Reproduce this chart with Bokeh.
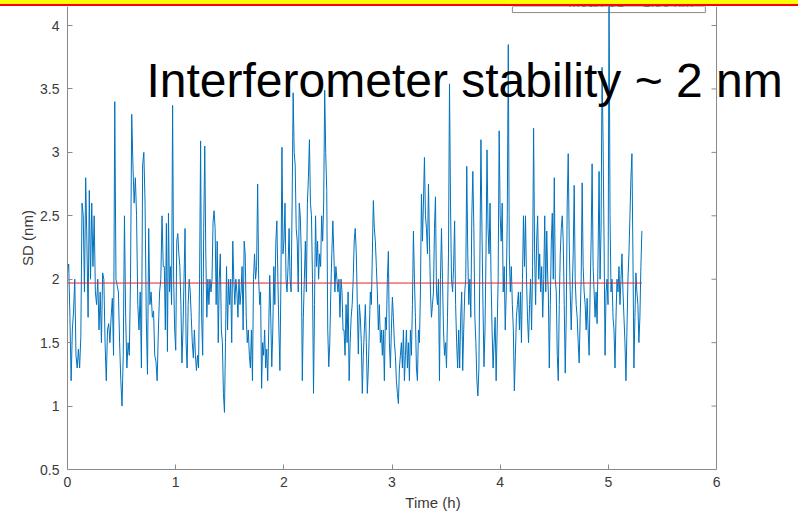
import numpy as np
from bokeh.plotting import figure
from bokeh.models import Range1d, FixedTicker, Label, Div, BoxAnnotation, ColumnDataSource, Title, Span
from bokeh.layouts import column
from bokeh.embed import file_html
from bokeh.resources import INLINE
from bokeh.core.properties import value

# ---------------- data ----------------
# time span (h) covered by each chunk of readings
seg_bounds = [(0.0, 0.885), (0.895, 1.777), (1.785, 2.66),
              (2.67, 3.55), (3.56, 4.44), (4.445, 5.31)]

sd_seg1 = [2.05, 2.12, 1.7, 1.2, 1.6, 1.75, 2.0, 1.4, 1.3, 1.45, 1.3, 1.55, 2.6, 2.5, 1.9, 2.8,
           2.3, 1.7, 2.7, 2.0, 2.6, 2.1, 2.5, 1.9, 1.8, 2.0, 1.6, 1.9, 1.5, 2.05, 2.0, 1.5, 1.2,
           1.6, 1.65, 1.5, 1.7, 1.85, 1.4, 3.4, 2.0, 1.95, 1.9, 1.5, 1.2, 1.0, 1.4, 2.5, 1.7, 1.3,
           1.5, 1.4, 2.0, 3.3, 2.9, 2.6, 2.8, 2.5, 1.8, 1.6, 1.9, 1.3, 2.9, 3.0, 2.6, 1.7, 1.25,
           2.4, 1.8, 1.9, 1.7, 1.75, 1.4, 1.35, 1.2, 1.6, 1.9, 2.0, 2.5, 2.1]
sd_seg2 = [2.1, 1.6, 2.44, 1.43, 2.52, 1.9, 2.1, 1.8, 3.37, 2.0, 1.6, 1.44, 2.3, 2.36, 2.2, 2.1,
           1.8, 1.34, 1.6, 2.0, 2.4, 1.5, 1.3, 1.8, 2.0, 1.9, 1.7, 1.5, 1.38, 1.6, 1.4, 1.28, 1.4,
           1.3, 2.0, 3.09, 1.7, 1.4, 2.4, 3.05, 2.2, 1.7, 2.0, 1.8, 2.0, 1.9, 2.0, 2.45, 2.54, 2.4,
           1.8, 2.3, 1.5, 2.0, 2.2, 1.6, 1.5, 1.1, 0.95, 1.5, 2.1, 1.6, 2.0, 1.8, 2.0, 1.5, 2.3,
           2.0, 1.8, 2.0, 1.9, 1.7, 2.0, 1.8, 1.9, 2.1, 1.6, 2.3, 2.2, 1.7, 1.5, 1.6, 1.4, 1.3,
           1.6, 1.2, 2.0, 2.2, 2.0, 2.1, 2.75, 2.0, 1.8]
sd_seg3 = [1.9, 1.14, 1.5, 1.4, 1.6, 1.3, 1.45, 1.2, 1.6, 2.03, 1.7, 1.31, 1.6, 2.1, 1.8, 2.3,
           2.46, 2.0, 1.6, 1.28, 2.0, 3.04, 2.2, 2.3, 2.6, 2.0, 1.9, 2.1, 2.4, 2.0, 1.9, 2.6, 3.47,
           3.0, 2.9, 2.4, 2.3, 1.9, 2.6, 2.5, 2.2, 1.2, 1.7, 2.0, 2.3, 1.9, 2.6, 2.8, 3.1, 2.6,
           2.5, 2.0, 1.1, 1.8, 2.5, 2.1, 2.3, 2.0, 2.2, 2.1, 2.5, 2.3, 2.6, 3.49, 3.0, 2.7, 1.6,
           1.31, 1.5, 1.9, 2.2, 2.46, 2.2, 1.9, 2.1, 2.0, 1.9, 2.0, 1.7, 2.0, 1.9, 1.6, 1.6, 1.4,
           1.8, 1.5, 1.9, 1.2, 1.5, 1.7, 1.8, 2.0, 2.3, 2.4]
sd_seg4 = [2.2, 1.8, 1.41, 1.8, 1.7, 1.5, 1.1, 1.4, 1.6, 1.8, 1.5, 1.1, 1.3, 1.6, 1.9, 1.8, 2.2,
           2.62, 2.4, 2.3, 2.1, 1.9, 1.6, 1.8, 1.5, 1.6, 1.4, 1.6, 1.2, 1.7, 1.6, 2.0, 2.22, 1.5,
           1.3, 1.6, 1.86, 1.7, 1.5, 1.4, 1.2, 1.1, 1.02, 1.3, 1.4, 1.5, 1.3, 1.6, 1.2, 1.4, 1.6,
           1.3, 1.5, 1.2, 1.6, 1.4, 1.8, 2.38, 2.0, 1.7, 1.3, 1.2, 1.6, 1.5, 1.9, 2.67, 2.3, 2.6,
           2.96, 2.5, 2.4, 2.2, 2.75, 2.3, 1.9, 1.7, 1.8, 1.9, 2.4, 2.65, 1.9, 1.8, 2.0, 1.2, 2.0,
           2.4, 2.0, 1.6, 1.4, 1.5, 1.3, 1.7, 2.2, 3.54, 2.6, 2.0]
sd_seg5 = [1.9, 2.1, 2.46, 1.8, 1.5, 1.3, 1.6, 1.3, 1.7, 1.9, 1.28, 1.6, 1.9, 2.0, 2.89, 2.2,
           1.8, 2.0, 1.7, 2.5, 2.85, 2.4, 1.7, 1.5, 1.2, 1.08, 1.3, 2.2, 3.1, 2.4, 1.8, 1.31, 1.6,
           2.2, 3.02, 2.4, 2.2, 2.6, 2.0, 1.6, 1.3, 1.5, 1.7, 1.2, 1.6, 2.0, 3.17, 2.5, 2.3, 2.6,
           1.9, 2.1, 1.6, 1.9, 2.5, 3.85, 2.2, 1.9, 2.1, 1.8, 1.6, 1.12, 1.4, 1.7, 1.8, 1.9, 1.6,
           1.9, 1.5, 2.0, 2.5, 2.1, 2.5, 2.0, 1.7, 1.5, 1.8, 2.0, 1.6, 2.1, 3.19, 2.2, 1.8, 2.3,
           2.5, 2.0, 2.2, 1.9, 2.1, 1.7, 2.0, 2.5, 1.9, 2.38, 2.0]
sd_seg6 = [1.9, 1.3, 1.8, 2.3, 2.52, 2.0, 2.8, 2.0, 1.9, 1.4, 1.2, 1.8, 2.2, 2.4, 2.5, 2.3, 1.8,
           1.26, 1.7, 2.6, 2.99, 2.3, 1.9, 1.6, 1.9, 2.2, 2.74, 2.0, 1.8, 1.7, 1.5, 1.34, 1.7, 2.0,
           2.76, 2.1, 1.9, 1.8, 1.6, 1.85, 1.6, 1.4, 1.9, 2.3, 2.91, 2.1, 1.9, 1.7, 1.9, 1.65,
           2.2, 2.85, 2.0, 2.4, 3.67, 3.1, 2.3, 1.4, 1.9, 2.0, 1.8, 4.3, 2.5, 1.9, 2.0, 1.7, 1.6,
           1.3, 1.7, 2.0, 1.9, 2.1, 1.8, 2.0, 2.2, 1.9, 1.7, 1.5, 1.2, 1.6, 2.0, 2.2, 2.5, 2.8,
           2.99, 2.2, 1.3, 1.7, 2.05, 1.9, 1.8, 1.5, 1.7, 2.1, 2.38]

mean_sd = 1.97
mean_span = [0.0, 5.31]

x_ticks = [0, 1, 2, 3, 4, 5, 6]
x_labels = ["0", "1", "2", "3", "4", "5", "6"]
y_ticks = [0.5, 1.0, 1.5, 2.0, 2.5, 3.0, 3.5, 4.0]
y_labels = ["0.5", "1", "1.5", "2", "2.5", "3", "3.5", "4"]

title_text = "Interferometer stability ~ 2 nm"
legend_text = "Mean SD = 1.96 nm"

# ---------------- build ----------------
segs = [sd_seg1, sd_seg2, sd_seg3, sd_seg4, sd_seg5, sd_seg6]
t = np.concatenate([np.linspace(a, b, len(s)) for (a, b), s in zip(seg_bounds, segs)])
sd = np.concatenate([np.array(s, dtype=float) for s in segs])
src = ColumnDataSource(dict(t=t, sd=sd))

FONT = "Liberation Sans"
AX = "#8a8a8a"
LBL = "#3a3a3a"

PX_PER_H = 108.17
FRAME_W = 731
TICK_PX = 5
p = figure(frame_width=FRAME_W, frame_height=463,
           x_range=Range1d(0, FRAME_W / PX_PER_H), y_range=Range1d(0.5, 4.15),
           output_backend="svg", toolbar_location=None,
           min_border_left=67, min_border_right=0, min_border_top=0, min_border_bottom=47)
p.outline_line_color = None
p.grid.visible = False
p.background_fill_color = "white"
p.border_fill_color = "white"

def style_axis(ax):
    ax.axis_line_color = AX
    ax.axis_line_width = 1
    ax.major_tick_line_color = AX
    ax.major_tick_in = TICK_PX
    ax.major_tick_out = 0
    ax.minor_tick_line_color = None
    ax.major_label_text_font = FONT
    ax.major_label_text_font_size = "14px"
    ax.major_label_text_color = LBL

p.xaxis.ticker = FixedTicker(ticks=x_ticks)
p.xaxis.major_label_overrides = {float(k): v for k, v in zip(x_ticks, x_labels)}
p.xaxis.bounds = (x_ticks[0], x_ticks[-1])
p.yaxis.ticker = FixedTicker(ticks=y_ticks)
p.yaxis.major_label_overrides = {float(k): v for k, v in zip(y_ticks, y_labels)}
style_axis(p.xaxis[0])
style_axis(p.yaxis[0])
p.xaxis.major_label_standoff = 7
p.yaxis.major_label_standoff = 8
p.xaxis.axis_label = "Time (h)"
p.xaxis.axis_label_text_font = FONT
p.xaxis.axis_label_text_font_size = "15px"
p.xaxis.axis_label_text_font_style = "normal"
p.xaxis.axis_label_text_color = LBL
p.xaxis.axis_label_standoff = 4

# right-hand box edge of the MATLAB axes, with inward ticks
p.add_layout(Span(location=x_ticks[-1], dimension="height", line_color=AX, line_width=1))
p.segment(x0=np.full(len(y_ticks), float(x_ticks[-1])) - TICK_PX / PX_PER_H, y0=y_ticks,
          x1=np.full(len(y_ticks), float(x_ticks[-1])), y1=y_ticks, line_color=AX, line_width=1)

# y axis label, centred on the full (partly hidden) axes height
p.add_layout(Title(text="SD (nm)", align="center", offset=18, standoff=4,
                   text_font=FONT, text_font_size="15px", text_font_style="normal",
                   text_color=LBL), "left")

# legend box (top cut off in the reference)
box = BoxAnnotation(left=4.113, right=5.897, bottom=4.102, fill_color="white", fill_alpha=1.0,
                    line_color="#8a8a8a", line_alpha=1.0, line_width=1, level="underlay")
p.add_layout(box)
p.text(x=[4.63], y=[4.182], text=[legend_text], text_font=value(FONT), text_font_size="14px",
       text_color=LBL, text_baseline="alphabetic", text_align="left")

p.line("t", "sd", source=src, line_color="#0072BD", line_width=1)
p.line(mean_span, [mean_sd, mean_sd], line_color="#e8202a", line_width=1)

p.add_layout(Label(x=0.73, y=3.567, text=title_text, text_font=FONT,
                   text_font_size="48px", text_color="black", text_baseline="alphabetic"))

band = Div(text="", width=798, height=6, margin=(0, 0, 0, 0),
           styles={"background": "linear-gradient(#ffff00 0px, #ffff00 4px, #ff0000 4px, #ff0000 6px)"})

layout = column(band, p, spacing=0)
open("out.html", "w").write(file_html(layout, INLINE))
